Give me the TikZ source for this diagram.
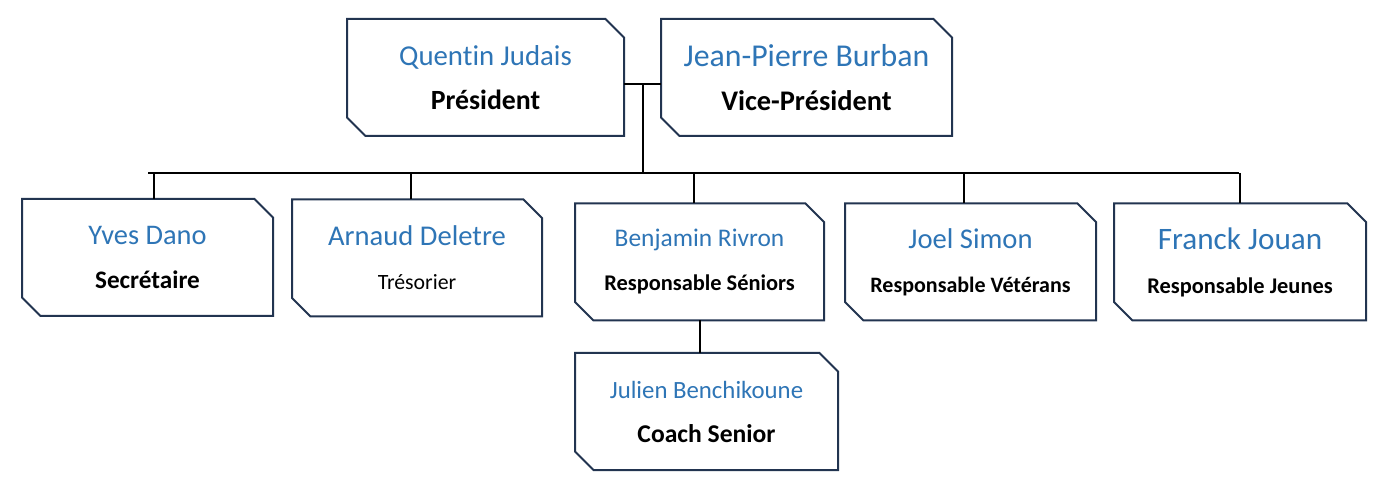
\documentclass[tikz,border=0pt]{standalone}
\usepackage{fontspec}
\setmainfont{Carlito}[Ligatures=NoCommon]
\usetikzlibrary{shapes.misc,positioning}
\definecolor{nameblue}{RGB}{46,117,182}
\definecolor{edgenavy}{RGB}{34,52,80}
% name size, role size, name, role (role weight in #5)
\newcommand{\poste}[5]{{\fontsize{#1}{22}\selectfont\color{nameblue}#3}\\%
  {\fontsize{#2}{22}\selectfont#5#4}}

\begin{document}
\begin{tikzpicture}[x=0.5pt,y=-0.5pt,
    card/.style={chamfered rectangle,chamfered rectangle corners={north east,south west},
      chamfered rectangle xsep=4.5pt,chamfered rectangle ysep=4.75pt,
      draw=edgenavy,line width=1pt,fill=white,align=center,inner sep=2pt,outer sep=0pt,
      minimum height=58.5pt,font=\fontsize{14}{22}\selectfont},
    link/.style={line width=1pt},
    thin link/.style={line width=0.6pt}]
  \useasboundingbox (0,0) rectangle (1396,480);
  % bureau
  \node[card,minimum width=138.5pt] (pres) at (485.5,77.5)
    {\poste{14.4}{13.9}{Quentin Judais}{Président}{\bfseries}};
  \node[card,minimum width=145.5pt] (vice) at (806.5,77.5)
    {\poste{15.9}{14.2}{Jean-Pierre Burban}{Vice-Président}{\bfseries}};
  % responsables
  \node[card,minimum width=125.5pt] (secr) at (147.5,257.5)
    {\poste{14.2}{12.6}{Yves Dano}{Secrétaire}{\bfseries}};
  \node[card,minimum width=125pt] (treso) at (417,258)
    {\poste{14.3}{10.9}{Arnaud Deletre}{Trésorier}{}};
  \node[card,minimum width=124.5pt] (seniors) at (699.5,262)
    {\poste{12.7}{11.2}{Benjamin Rivron}{Responsable Séniors}{\bfseries}};
  \node[card,minimum width=125.5pt] (veterans) at (970.5,262)
    {\poste{14.3}{11}{Joel Simon}{Responsable Vétérans}{\bfseries}};
  \node[card,minimum width=126pt] (jeunes) at (1240,262)
    {\poste{15.6}{11.2}{Franck Jouan}{Responsable Jeunes}{\bfseries}};
  \node[card,minimum width=131.5pt] (coach) at (706.5,411.5)
    {\poste{12.4}{12.8}{Julien Benchikoune}{Coach Senior}{\bfseries}};
  % liaisons
  \coordinate (stub) at (643,84);
  \coordinate (busL) at (148,173);
  \coordinate (busR) at (1239,173);
  \draw[link] (pres.east |- stub) -- (vice.west |- stub);
  \draw[link] (stub) -- (stub |- busL);
  \draw[link] (busL) -- (busR);
  \draw[link] ([xshift=3.25pt]secr.north |- busL) -- ([xshift=3.25pt]secr.north);
  \draw[link] ([xshift=-3pt]treso.north |- busL) -- ([xshift=-3pt]treso.north);
  \draw[thin link] ([xshift=-2.75pt]seniors.north |- busL) -- ([xshift=-2.75pt]seniors.north);
  \draw[thin link] ([xshift=-3.25pt]veterans.north |- busL) -- ([xshift=-3.25pt]veterans.north);
  \draw[thin link] (jeunes.north |- busR) -- (jeunes.north);
  \draw[link] (seniors.south) -- (seniors.south |- coach.north);
\end{tikzpicture}
\end{document}
